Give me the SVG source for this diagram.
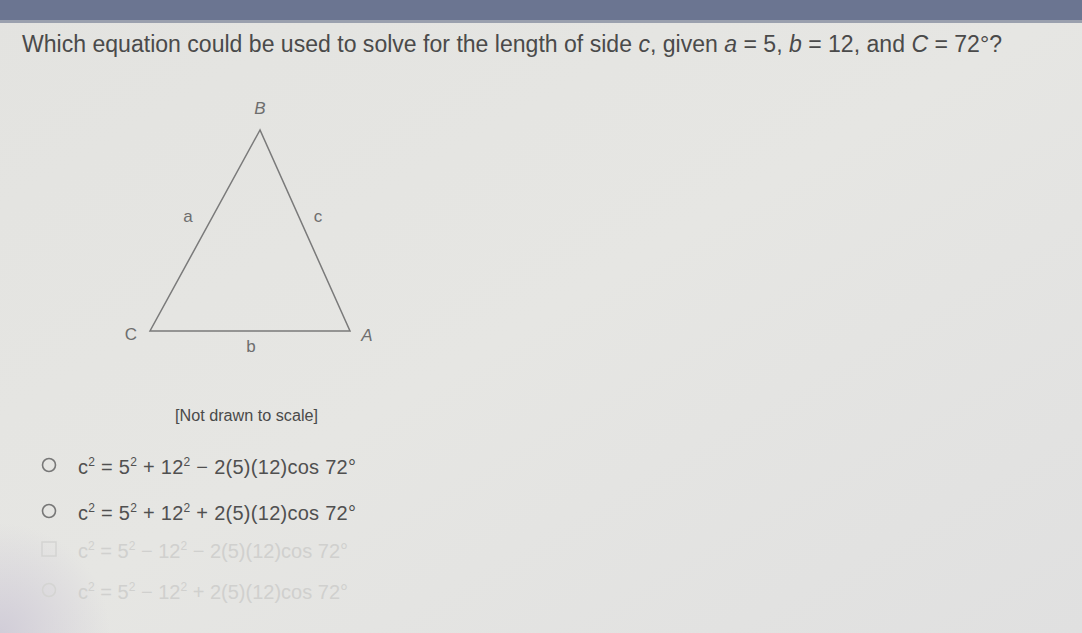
<svg xmlns="http://www.w3.org/2000/svg" width="1082" height="633" viewBox="0 0 1082 633">
<defs>
<linearGradient id="bg" x1="0" y1="0" x2="1" y2="1">
<stop offset="0" stop-color="#e3e3e0"/>
<stop offset="0.5" stop-color="#e6e6e3"/>
<stop offset="1" stop-color="#e0e0e0"/>
</linearGradient>
<radialGradient id="corner" cx="0" cy="633" r="110" gradientUnits="userSpaceOnUse">
<stop offset="0" stop-color="#c8c2d3" stop-opacity="0.7"/>
<stop offset="1" stop-color="#c8c2d3" stop-opacity="0"/>
</radialGradient>
</defs>
<style>
.t{font-family:"Liberation Sans",Arial,sans-serif;fill:#4a4a4a}
.lbl{font-family:"Liberation Sans",Arial,sans-serif;fill:#6e6e6e;font-size:17px}
.opt{font-family:"Liberation Sans",Arial,sans-serif;fill:#505050;font-size:20px}
.faint{font-family:"Liberation Sans",Arial,sans-serif;fill:#d0d0ce;font-size:20px}
.sup{font-size:12px}
.radio{fill:none;stroke:#777;stroke-width:1.6}
</style>
<rect x="0" y="0" width="1082" height="633" fill="url(#bg)"/>
<rect x="0" y="500" width="120" height="133" fill="url(#corner)"/>
<rect x="0" y="0" width="1082" height="21" fill="#6b7591"/>
<rect x="0" y="20" width="1082" height="3" fill="#9aa0ae"/>
<text class="t" x="22" y="52" font-size="23" textLength="980" lengthAdjust="spacingAndGlyphs">Which equation could be used to solve for the length of side <tspan font-style="italic">c</tspan>, given <tspan font-style="italic">a</tspan> = 5, <tspan font-style="italic">b</tspan> = 12, and <tspan font-style="italic">C</tspan> = 72°?</text>
<g id="triangle">
<polygon points="260,130 150,331 350,331" fill="none" stroke="#7a7a7a" stroke-width="1.5"/>
</g>
<g id="labels">
<text class="lbl" x="260" y="114" text-anchor="middle" font-style="italic">B</text>
<text class="lbl" x="188" y="222" text-anchor="middle">a</text>
<text class="lbl" x="318" y="222" text-anchor="middle">c</text>
<text class="lbl" x="131" y="340" text-anchor="middle">C</text>
<text class="lbl" x="367" y="341" text-anchor="middle" font-style="italic">A</text>
<text class="lbl" x="251" y="352" text-anchor="middle">b</text>
</g>
<text class="t" x="175" y="421" font-size="16" fill="#555" textLength="143" lengthAdjust="spacingAndGlyphs">[Not drawn to scale]</text>
<g id="option1">
<circle class="radio" cx="49" cy="465" r="6.5"/>
<text class="opt" x="78" y="474" textLength="278" lengthAdjust="spacing">c<tspan class="sup" dy="-8">2</tspan><tspan dy="8"> = 5</tspan><tspan class="sup" dy="-8">2</tspan><tspan dy="8"> + 12</tspan><tspan class="sup" dy="-8">2</tspan><tspan dy="8"> − 2(5)(12)cos 72°</tspan></text>
</g>
<g id="option2">
<circle class="radio" cx="49" cy="511" r="6.5"/>
<text class="opt" x="78" y="520" textLength="278" lengthAdjust="spacing">c<tspan class="sup" dy="-8">2</tspan><tspan dy="8"> = 5</tspan><tspan class="sup" dy="-8">2</tspan><tspan dy="8"> + 12</tspan><tspan class="sup" dy="-8">2</tspan><tspan dy="8"> + 2(5)(12)cos 72°</tspan></text>
</g>
<g id="option3">
<rect x="42" y="542" width="14" height="14" fill="none" stroke="#d4d4d2" stroke-width="1.5"/>
<text class="faint" x="78" y="558" textLength="270" lengthAdjust="spacing">c<tspan class="sup" dy="-8">2</tspan><tspan dy="8"> = 5</tspan><tspan class="sup" dy="-8">2</tspan><tspan dy="8"> − 12</tspan><tspan class="sup" dy="-8">2</tspan><tspan dy="8"> − 2(5)(12)cos 72°</tspan></text>
</g>
<g id="option4">
<circle cx="49" cy="590" r="6.5" fill="none" stroke="#d4d4d2" stroke-width="1.5"/>
<text class="faint" x="78" y="599" textLength="270" lengthAdjust="spacing">c<tspan class="sup" dy="-8">2</tspan><tspan dy="8"> = 5</tspan><tspan class="sup" dy="-8">2</tspan><tspan dy="8"> − 12</tspan><tspan class="sup" dy="-8">2</tspan><tspan dy="8"> + 2(5)(12)cos 72°</tspan></text>
</g>
</svg>
